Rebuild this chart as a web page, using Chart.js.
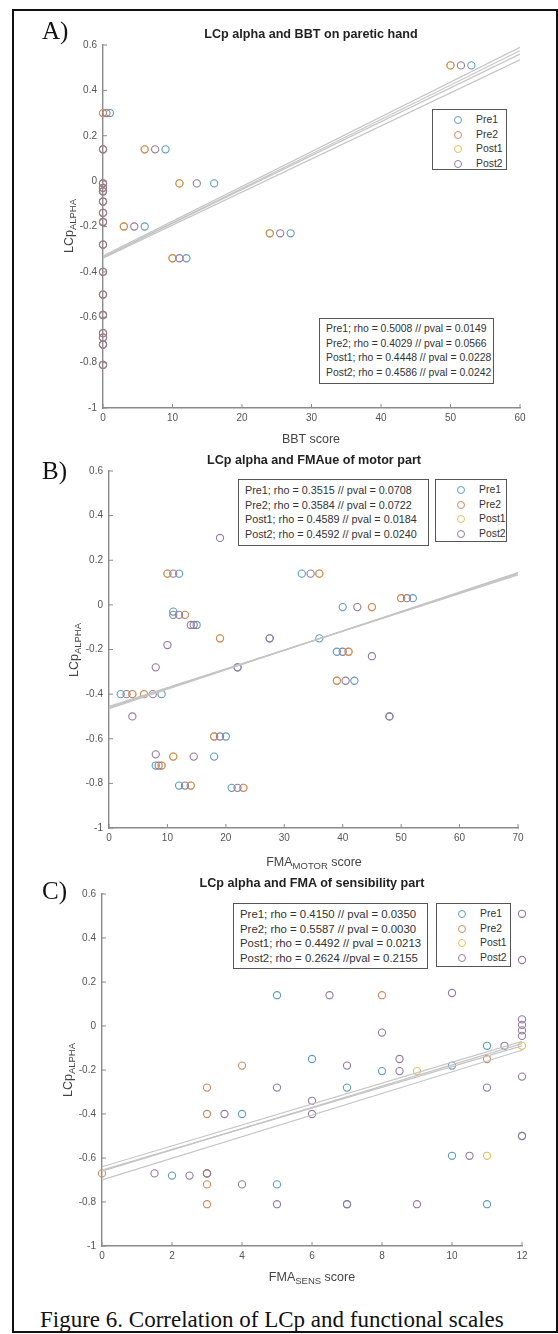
<!DOCTYPE html>
<html>
<head>
<meta charset="utf-8">
<title>Correlation of LCp and functional scales</title>
<script src="https://cdn.jsdelivr.net/npm/chart.js@4.4.1/dist/chart.umd.min.js"></script>
<style>
  body { margin: 0; background: #fff; }
  #fig { position: relative; width: 558px; height: 1334px; overflow: hidden; font-family: "Liberation Sans", Arial, sans-serif; color: #222; }
  #fig canvas { position: absolute; left: 0; }
  .frame { position: absolute; left: 12px; top: 9px; width: 546px; height: 1324px; border: 2px solid #111; box-sizing: border-box; pointer-events: none; }
  .title { position: absolute; transform: translate(-50%, -50%); font-weight: bold; font-size: 12.6px; white-space: nowrap; color: #222; }
  .tag { position: absolute; transform: translateY(-50%); font-family: "Liberation Serif", "Times New Roman", serif; font-size: 25px; color: #111; }
  .xlab { position: absolute; transform: translate(-50%, -50%); font-size: 12.5px; color: #444; white-space: nowrap; }
  .ylab { position: absolute; transform: translate(-50%, -50%) rotate(-90deg); font-size: 12.5px; color: #444; white-space: nowrap; }
  .xlab sub, .ylab sub { font-size: 9.5px; vertical-align: -3px; line-height: 0; }
  .box { position: absolute; box-sizing: border-box; border: 1.5px solid #555; background: #fff; padding: 3px 0 0 6px; line-height: 14.7px; color: #333; white-space: nowrap; }
  .legend { position: absolute; box-sizing: border-box; border: 1.5px solid #555; background: #fff; padding-top: 3px; font-size: 10.4px; line-height: 14.5px; color: #333; }
  .legend div { display: flex; align-items: center; }
  .legend .mk { width: 8px; height: 8px; box-sizing: border-box; border: 1.2px solid; border-radius: 50%; margin: 0 14px 0 21px; }
  .caption { position: absolute; left: 40px; top: 1320px; transform: translateY(-50%); font-family: "Liberation Serif", "Times New Roman", serif; font-size: 23px; color: #111; white-space: nowrap; }
</style>
</head>
<body>
<div id="fig">
  <canvas id="cA" width="558" height="450" style="top:0px"></canvas>
  <canvas id="cB" width="558" height="425" style="top:450px"></canvas>
  <canvas id="cC" width="558" height="410" style="top:875px"></canvas>

  <div class="tag" style="left:42px;top:31px">A)</div>
  <div class="tag" style="left:42px;top:471px">B)</div>
  <div class="tag" style="left:42px;top:891px">C)</div>

  <div class="title" style="left:311px;top:34px">LCp alpha and BBT on paretic hand</div>
  <div class="title" style="left:314px;top:460px">LCp alpha and FMAue of motor part</div>
  <div class="title" style="left:312px;top:883px">LCp alpha and FMA of sensibility part</div>

  <div class="xlab" style="left:311px;top:439px">BBT score</div>
  <div class="xlab" style="left:314px;top:862px">FMA<sub>MOTOR</sub> score</div>
  <div class="xlab" style="left:312px;top:1277px">FMA<sub>SENS</sub> score</div>

  <div class="ylab" style="left:69px;top:226px">LCp<sub>ALPHA</sub></div>
  <div class="ylab" style="left:74px;top:650px">LCp<sub>ALPHA</sub></div>
  <div class="ylab" style="left:68px;top:1070px">LCp<sub>ALPHA</sub></div>

  <div class="caption">Figure 6. Correlation of LCp and functional scales</div>
  <div class="frame"></div>
</div>

<script>
// series + axis ticks
const seriesNames = ["Pre1", "Pre2", "Post1", "Post2"];
const seriesColors = ["#5b9cbf", "#cc8a5e", "#e4bf5c", "#937a9d"];
const yTicks = [-1, -0.8, -0.6, -0.4, -0.2, 0, 0.2, 0.4, 0.6];
const bbtTicks = [0, 10, 20, 30, 40, 50, 60];
const motorTicks = [0, 10, 20, 30, 40, 50, 60, 70];
const sensTicks = [0, 2, 4, 6, 8, 10, 12];

// A) BBT score vs LCp alpha, [score, lcp]
const bbtZeroLcp = [0.14, -0.01, -0.03, -0.045, -0.09, -0.14, -0.18, -0.28, -0.40, -0.50, -0.59, -0.67, -0.69, -0.72, -0.81];
const bbtPre1 = [[53, 0.51], [1, 0.30], [9, 0.14], [16, -0.01], [6, -0.20], [12, -0.34], [27, -0.23]];
const bbtPre2 = [[50, 0.51], [0, 0.30], [6, 0.14], [11, -0.01], [3, -0.20], [10, -0.34], [24, -0.23]];
const bbtPost1 = [[50, 0.51], [0, 0.30], [6, 0.14], [11, -0.01], [3, -0.20], [10, -0.34], [24, -0.23]];
const bbtPost2 = [[51.5, 0.51], [0.5, 0.30], [7.5, 0.14], [13.5, -0.01], [4.5, -0.20], [11, -0.34], [25.5, -0.23]];
// regression line per series: lcp at x min, lcp at x max
const bbtFit = [[-0.33, 0.59], [-0.335, 0.575], [-0.34, 0.535], [-0.335, 0.56]];
const bbtStats = [
  "Pre1; rho = 0.5008 // pval = 0.0149",
  "Pre2; rho = 0.4029 // pval = 0.0566",
  "Post1; rho = 0.4448 // pval = 0.0228",
  "Post2; rho = 0.4586 // pval = 0.0242"
];

// B) FMA motor score
const motorPre1 = [[12, 0.14], [33, 0.14], [11, -0.03], [15, -0.09], [36, -0.15], [27.5, -0.15], [22, -0.28], [2, -0.40], [9, -0.40],
  [20, -0.59], [18, -0.68], [8, -0.72], [12, -0.81], [21, -0.82], [52, 0.03], [40, -0.01], [39, -0.21], [42, -0.34], [48, -0.50]];
const motorPre2 = [[10, 0.14], [36, 0.14], [13, -0.045], [19, -0.15], [4, -0.40], [6, -0.40], [18, -0.59], [11, -0.68], [9, -0.72],
  [14, -0.81], [23, -0.82], [50, 0.03], [45, -0.01], [41, -0.21], [39, -0.34]];
const motorPost1 = [[10, 0.14], [36, 0.14], [13, -0.045], [19, -0.15], [4, -0.40], [6, -0.40], [18, -0.59], [11, -0.68], [9, -0.72],
  [14, -0.81], [23, -0.82], [50, 0.03], [45, -0.01], [41, -0.21], [39, -0.34]];
const motorPost2 = [[11, 0.14], [34.5, 0.14], [19, 0.30], [11, -0.045], [12, -0.045], [14, -0.09], [14.5, -0.09], [10, -0.18], [8, -0.28],
  [27.5, -0.15], [22, -0.28], [3, -0.40], [7.5, -0.40], [4, -0.50], [19, -0.59], [8, -0.67], [8.5, -0.72], [14.5, -0.68], [13, -0.81],
  [22, -0.82], [51, 0.03], [42.5, -0.01], [40, -0.21], [45, -0.23], [40.5, -0.34], [48, -0.50]];
const motorFit = [[-0.46, 0.14], [-0.455, 0.135], [-0.465, 0.145], [-0.46, 0.14]];
const motorStats = [
  "Pre1; rho = 0.3515 // pval = 0.0708",
  "Pre2; rho = 0.3584 // pval = 0.0722",
  "Post1; rho = 0.4589 // pval = 0.0184",
  "Post2; rho = 0.4592 // pval = 0.0240"
];

// C) FMA sensibility score
const sensPre1 = [[5, 0.14], [6, -0.15], [4, -0.40], [2, -0.68], [5, -0.72], [11, -0.09], [10, -0.18], [8, -0.205], [7, -0.28],
  [10, -0.59], [11, -0.81], [7, -0.81], [3, -0.67], [12, -0.50]];
const sensPre2 = [[0, -0.67], [3, -0.28], [4, -0.18], [3, -0.40], [3, -0.72], [3, -0.81], [8, 0.14], [11, -0.15], [3, -0.67]];
const sensPost1 = [[12, -0.09], [11, -0.59], [9, -0.205], [3, -0.67]];
const sensPost2 = [[12, 0.51], [12, 0.30], [6.5, 0.14], [10, 0.15], [8, -0.03], [12, 0.03], [12, 0.005], [12, -0.02], [12, -0.045],
  [11.5, -0.09], [12, -0.23], [11, -0.28], [8.5, -0.15], [8.5, -0.205], [7, -0.18], [6, -0.34], [6, -0.40], [12, -0.50], [10.5, -0.59],
  [7, -0.81], [9, -0.81], [1.5, -0.67], [2.5, -0.68], [3, -0.67], [4, -0.72], [5, -0.81], [5, -0.28], [3.5, -0.40]];
const sensFit = [[-0.64, -0.07], [-0.66, -0.08], [-0.70, -0.11], [-0.655, -0.09]];
const sensStats = [
  "Pre1; rho = 0.4150 // pval = 0.0350",
  "Pre2; rho = 0.5587 // pval = 0.0030",
  "Post1; rho = 0.4492 // pval = 0.0213",
  "Post2; rho = 0.2624 //pval = 0.2155"
];

const FONT = "'Liberation Sans', Arial, sans-serif";
const AXIS_GREY = "#8a8a8a";
const YW = 40, XH = 20;

// matlab style ticks pointing into the plot
const inTicks = {
  id: "inTicks",
  afterDraw(chart) {
    const { ctx, chartArea: a, scales: { x, y } } = chart;
    ctx.save();
    ctx.strokeStyle = AXIS_GREY;
    ctx.lineWidth = 1;
    ctx.beginPath();
    x.ticks.forEach(t => {
      const px = x.getPixelForValue(t.value);
      ctx.moveTo(px, a.bottom);
      ctx.lineTo(px, a.bottom - 4);
    });
    y.ticks.forEach(t => {
      const py = y.getPixelForValue(t.value);
      ctx.moveTo(a.left, py);
      ctx.lineTo(a.left + 4, py);
    });
    ctx.stroke();
    ctx.restore();
  }
};

function makePanel(id, series, fit, xTicks, area) {
  const cv = document.getElementById(id);
  const top = parseFloat(cv.style.top);
  const H = cv.height;
  const xMax = xTicks[xTicks.length - 1];
  const order = [4, 2, 3, 1]; // Post2 ends up on top, like the plot

  const datasets = fit.map(f => ({
    data: [{ x: xTicks[0], y: f[0] }, { x: xMax, y: f[1] }],
    showLine: true,
    borderColor: "#c4c4c4",
    borderWidth: 1.2,
    pointRadius: 0,
    order: 0
  }));
  series.forEach((pts, i) => {
    datasets.push({
      label: seriesNames[i],
      data: pts.map(p => ({ x: p[0], y: p[1] })),
      pointStyle: "circle",
      pointRadius: 3.6,
      pointBorderWidth: 1.1,
      borderColor: seriesColors[i],
      backgroundColor: "rgba(0,0,0,0)",
      clip: false, // markers on the axes are drawn whole
      order: order[i]
    });
  });

  const tickFont = { family: FONT, size: 10 };
  return new Chart(cv.getContext("2d"), {
    type: "scatter",
    data: { datasets },
    options: {
      responsive: false,
      animation: false,
      layout: {
        padding: {
          left: area.left - YW,
          right: 558 - area.right,
          top: area.top - top,
          bottom: top + H - area.bottom - XH
        }
      },
      plugins: { legend: { display: false }, tooltip: { enabled: false } },
      scales: {
        x: {
          type: "linear",
          min: xTicks[0],
          max: xMax,
          afterBuildTicks: s => { s.ticks = xTicks.map(v => ({ value: v })); },
          afterFit: s => { s.height = XH; },
          grid: { display: false, drawTicks: false },
          border: { display: true, color: AXIS_GREY, width: 1.4 },
          ticks: { color: "#555", font: tickFont, padding: 4, maxRotation: 0, autoSkip: false, callback: v => String(v) }
        },
        y: {
          type: "linear",
          min: -1,
          max: 0.6,
          afterBuildTicks: s => { s.ticks = yTicks.map(v => ({ value: v })); },
          afterFit: s => { s.width = YW; },
          grid: { display: false, drawTicks: false },
          border: { display: true, color: AXIS_GREY, width: 1.4 },
          ticks: { color: "#555", font: tickFont, padding: 6, autoSkip: false, callback: v => String(Math.round(v * 10) / 10) }
        }
      }
    },
    plugins: [inTicks]
  });
}

function addBox(lines, pos, fontSize) {
  const d = document.createElement("div");
  d.className = "box";
  Object.assign(d.style, { left: pos[0] + "px", top: pos[1] + "px", width: pos[2] + "px", height: pos[3] + "px", fontSize: fontSize + "px" });
  lines.forEach(t => {
    const r = document.createElement("div");
    r.textContent = t;
    d.appendChild(r);
  });
  document.getElementById("fig").insertBefore(d, document.querySelector(".frame"));
}

function addLegend(pos) {
  const d = document.createElement("div");
  d.className = "legend";
  Object.assign(d.style, { left: pos[0] + "px", top: pos[1] + "px", width: pos[2] + "px", height: pos[3] + "px" });
  seriesNames.forEach((n, i) => {
    const r = document.createElement("div");
    const mk = document.createElement("span");
    mk.className = "mk";
    mk.style.borderColor = seriesColors[i];
    r.appendChild(mk);
    r.appendChild(document.createTextNode(n));
    d.appendChild(r);
  });
  document.getElementById("fig").insertBefore(d, document.querySelector(".frame"));
}

makePanel("cA", [bbtPre1, bbtPre2, bbtPost1, bbtPost2].map(s => s.concat(bbtZeroLcp.map(v => [0, v]))),
  bbtFit, bbtTicks, { left: 103, right: 520, top: 45, bottom: 408 });
makePanel("cB", [motorPre1, motorPre2, motorPost1, motorPost2], motorFit, motorTicks, { left: 109, right: 518, top: 471, bottom: 828 });
makePanel("cC", [sensPre1, sensPre2, sensPost1, sensPost2], sensFit, sensTicks, { left: 102, right: 522, top: 894, bottom: 1246 });

addLegend([432, 109, 75, 61]);
addBox(bbtStats, [319, 318, 175, 66], 10.4);
addLegend([435, 479, 72, 63]);
addBox(motorStats, [238, 479, 191, 67], 10.8);
addLegend([436, 903, 75, 64]);
addBox(sensStats, [233, 903, 195, 66], 11.4);
</script>
</body>
</html>
